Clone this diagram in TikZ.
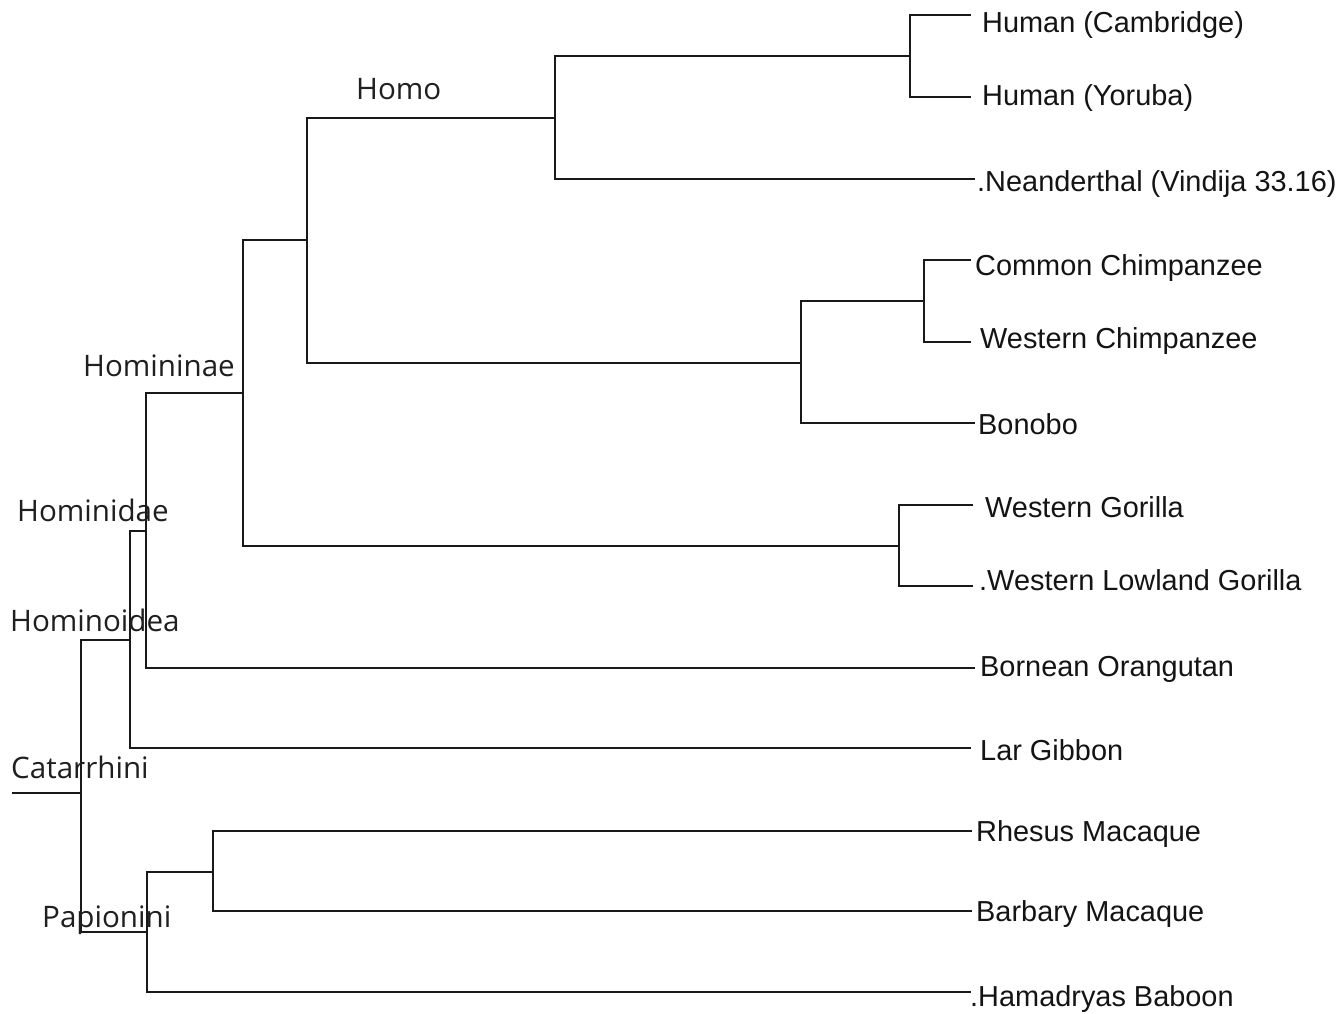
\documentclass[tikz,border=0pt]{standalone}
\usepackage{fontspec}
\setmainfont{Liberation Sans}
\newfontfamily\cladefont{Open Sans}
\begin{document}
\begin{tikzpicture}[x=1pt,y=-1pt,
  branch/.style={draw=black!90, line width=2.4pt, line join=miter},
  leaflabel/.style={anchor=base west, inner sep=0pt, text=black!92, font=\fontsize{28.9}{34}\selectfont},
  cladelabel/.style={anchor=base west, inner sep=0pt, text=black!88, font=\cladefont\fontsize{29.6}{34}\selectfont}]
\useasboundingbox[fill=white] (0,0) rectangle (1343,1013);

% internal nodes
\coordinate (root) at (12,793);
\coordinate (cat) at (81,793);
\coordinate (hoidea) at (130,640);
\coordinate (hidae) at (146,531);
\coordinate (hinae) at (243,393);
\coordinate (homopan) at (307,240);
\coordinate (homo) at (555,118);
\coordinate (human) at (910,56);
\coordinate (pan) at (801,363);
\coordinate (chimp) at (924,301);
\coordinate (gorilla) at (899,546);
\coordinate (papio) at (147,932);
\coordinate (macaca) at (213,872);

% leaf tips
\coordinate (tHC) at (971,15);
\coordinate (tHY) at (971,97);
\coordinate (tNe) at (975,179);
\coordinate (tCC) at (971,260);
\coordinate (tWC) at (971,342);
\coordinate (tBo) at (975,423);
\coordinate (tWG) at (973,505);
\coordinate (tWL) at (973,586);
\coordinate (tOr) at (975,668);
\coordinate (tLG) at (971,748);
\coordinate (tRh) at (972,831);
\coordinate (tBa) at (972,911);
\coordinate (tHa) at (971,992);

% branches
\draw[branch] (root) -- (cat);
\draw[branch] (cat) |- (hoidea);
\draw[branch] (cat) |- (papio);
\draw[branch] (hoidea) |- (hidae);
\draw[branch] (hoidea) |- (tLG);
\draw[branch] (hidae) |- (hinae);
\draw[branch] (hidae) |- (tOr);
\draw[branch] (hinae) |- (homopan);
\draw[branch] (hinae) |- (gorilla);
\draw[branch] (homopan) |- (homo);
\draw[branch] (homopan) |- (pan);
\draw[branch] (homo) |- (human);
\draw[branch] (homo) |- (tNe);
\draw[branch] (human) |- (tHC);
\draw[branch] (human) |- (tHY);
\draw[branch] (pan) |- (chimp);
\draw[branch] (pan) |- (tBo);
\draw[branch] (chimp) |- (tCC);
\draw[branch] (chimp) |- (tWC);
\draw[branch] (gorilla) |- (tWG);
\draw[branch] (gorilla) |- (tWL);
\draw[branch] (papio) |- (macaca);
\draw[branch] (papio) |- (tHa);
\draw[branch] (macaca) |- (tRh);
\draw[branch] (macaca) |- (tBa);

% leaf labels
\node[leaflabel] (lHC) at (982,32) {Human (Cambridge)};
\node[leaflabel] (lHY) at (982,105) {Human (Yoruba)};
\node[leaflabel] (lNe) at (977,191) {.Neanderthal (Vindija 33.16)};
\node[leaflabel] (lCC) at (975,275) {Common Chimpanzee};
\node[leaflabel] (lWC) at (980,348) {Western Chimpanzee};
\node[leaflabel] (lBo) at (978,434) {Bonobo};
\node[leaflabel] (lWG) at (985,517) {Western Gorilla};
\node[leaflabel] (lWL) at (979,590) {.Western Lowland Gorilla};
\node[leaflabel] (lOr) at (980,676) {Bornean Orangutan};
\node[leaflabel] (lLG) at (980,760) {Lar Gibbon};
\node[leaflabel] (lRh) at (976,841) {Rhesus Macaque};
\node[leaflabel] (lBa) at (976,921) {Barbary Macaque};
\node[leaflabel] (lHa) at (970,1006) {.Hamadryas Baboon};

% clade labels
\node[cladelabel] (cHomo) at (356,99) {Homo};
\node[cladelabel] (cHinae) at (83,376) {Homininae};
\node[cladelabel] (cHidae) at (17,521) {Hominidae};
\node[cladelabel] (cHoidea) at (10,631) {Hominoidea};
\node[cladelabel] (cCat) at (11,778) {Catarrhini};
\node[cladelabel] (cPapio) at (42,927) {Papionini};
\end{tikzpicture}
\end{document}
